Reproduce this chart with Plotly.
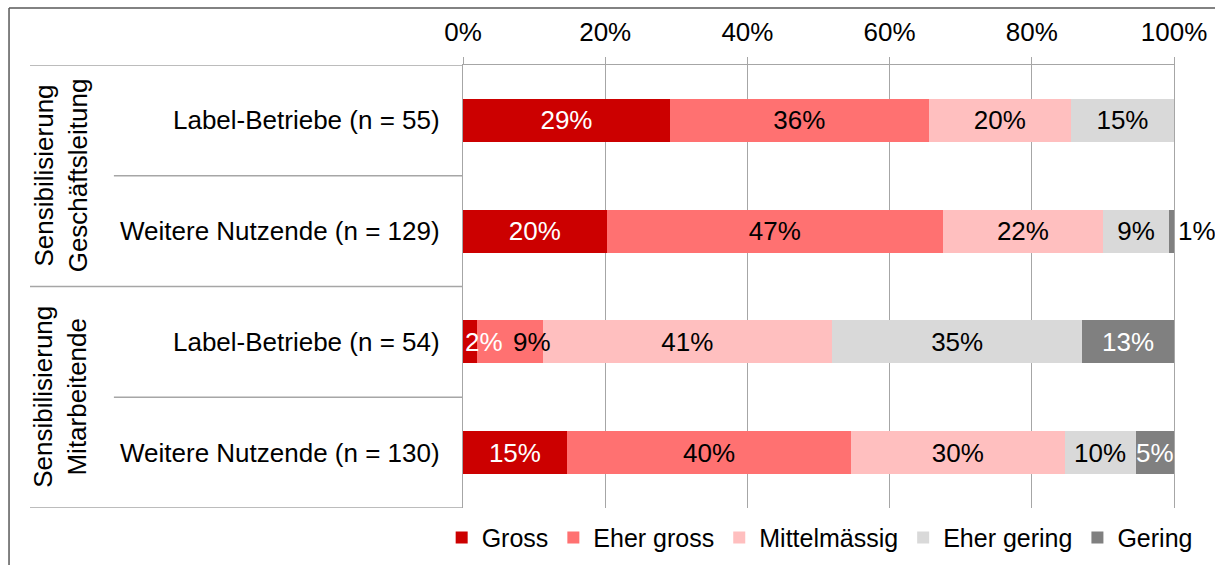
import plotly.graph_objects as go

# ---- data ----
categories = ["Label-Betriebe (n = 55)", "Weitere Nutzende (n = 129)",
              "Label-Betriebe (n = 54)", "Weitere Nutzende (n = 130)"]
group_labels = ["Sensibilisierung<br>Geschäftsleitung", "Sensibilisierung<br>Mitarbeitende"]
series_names = ["Gross", "Eher gross", "Mittelmässig", "Eher gering", "Gering"]

gross = [29.1, 20.2, 1.9, 14.6]
eher_gross = [36.4, 47.3, 9.3, 40.0]
mittel = [20.0, 22.5, 40.7, 30.0]
eher_gering = [14.5, 9.3, 35.2, 10.0]
gering = [0.0, 0.7, 12.9, 5.4]

gross_lbl = ["29%", "20%", "2%", "15%"]
eher_gross_lbl = ["36%", "47%", "9%", "40%"]
mittel_lbl = ["20%", "22%", "41%", "30%"]
eher_gering_lbl = ["15%", "9%", "35%", "10%"]
gering_lbl = ["", "1%", "13%", "5%"]

tick_vals = [0, 20, 40, 60, 80, 100]
tick_text = ["0%", "20%", "40%", "60%", "80%", "100%"]

# ---- style ----
FONT = "Liberation Sans, Arial, sans-serif"
FS = 26
colors = ["#CC0000", "#FF7171", "#FFBFBF", "#D9D9D9", "#808080"]
text_colors = ["white", "black", "black", "black", "white"]
GRID = "#A6A6A6"

values = [gross, eher_gross, mittel, eher_gering, gering]
labels = [gross_lbl, eher_gross_lbl, mittel_lbl, eher_gering_lbl, gering_lbl]

# labels that are drawn as separate annotations (narrow segments)
ann_points = {(0, 2): ("left", 0, "white"), (1, 2): ("right", 10, "black"), (4, 1): ("left", 2, "black")}

fig = go.Figure()
for i, name in enumerate(series_names):
    txt = [("" if (i, j) in ann_points else labels[i][j]) for j in range(len(categories))]
    fig.add_trace(go.Bar(
        name=name, y=categories, x=values[i], orientation="h",
        marker=dict(color=colors[i], line=dict(width=0)),
        text=txt, textposition="inside", textangle=0,
        insidetextanchor="middle",
        insidetextfont=dict(color=text_colors[i], size=FS, family=FONT),
        constraintext="none", cliponaxis=False,
        hoverinfo="skip",
    ))

annotations = []
for (i, j), (anchor, shift, col) in ann_points.items():
    if anchor == "left" and i == 0:
        xpos = 0
    else:
        xpos = sum(values[k][j] for k in range(i + 1))
    annotations.append(dict(x=xpos, y=categories[j], xref="x", yref="y", text=labels[i][j],
                            showarrow=False, xanchor=anchor, xshift=shift,
                            font=dict(color=col, size=FS, family=FONT)))
# group labels
for gi, g in enumerate(group_labels):
    annotations.append(dict(x=-0.566, xref="paper", y=gi * 2 + 0.5, yref="y", text=g,
                            textangle=-90, showarrow=False, xanchor="center", yanchor="middle",
                            font=dict(color="black", size=FS, family=FONT)))

shapes = []
# separator lines in label area
for yb, long in [(-0.5, True), (0.5, False), (1.5, True), (2.5, False), (3.5, True)]:
    shapes.append(dict(type="line", xref="paper", yref="y",
                       x0=-0.609 if long else -0.491, x1=0, y0=yb, y1=yb,
                       line=dict(color=GRID, width=1.3)))
# outer frame (left and top edges visible)
shapes.append(dict(type="line", xref="paper", yref="paper", x0=-0.6385, x1=-0.6385, y0=-0.3, y1=1.1287,
                   line=dict(color="#595959", width=1.5)))
shapes.append(dict(type="line", xref="paper", yref="paper", x0=-0.6385, x1=1.2, y0=1.1287, y1=1.1287,
                   line=dict(color="#595959", width=1.5)))

fig.update_layout(
    width=1215, height=565,
    margin=dict(l=463, r=41, t=65, b=57, autoexpand=False),
    paper_bgcolor="white", plot_bgcolor="white",
    barmode="stack", bargap=0.61,
    font=dict(family=FONT, size=FS, color="black"),
    uniformtext=dict(minsize=FS, mode="show"),
    showlegend=True,
    legend=dict(orientation="h", x=-0.03, xanchor="left", y=-0.015, yanchor="top",
                font=dict(size=25, family=FONT, color="black"), traceorder="normal",
                itemwidth=30, bgcolor="rgba(0,0,0,0)"),
    annotations=annotations, shapes=shapes,
)
fig.update_xaxes(range=[0, 100.0001], tickvals=tick_vals, ticktext=tick_text, side="top",
                 showgrid=True, gridcolor=GRID, gridwidth=1.3,
                 showline=True, linecolor=GRID, linewidth=1.3,
                 ticks="outside", ticklen=7, tickcolor=GRID, tickwidth=1.3,
                 ticklabelstandoff=5,
                 zeroline=False, tickfont=dict(size=FS, family=FONT, color="black"))
fig.update_yaxes(range=[3.5, -0.5], type="category", categoryorder="array", categoryarray=categories,
                 showline=True, linecolor=GRID, linewidth=1.3, mirror=True,
                 showgrid=False, ticks="", ticklabelstandoff=17,
                 tickfont=dict(size=FS, family=FONT, color="black"))

fig.write_html("out.html")
